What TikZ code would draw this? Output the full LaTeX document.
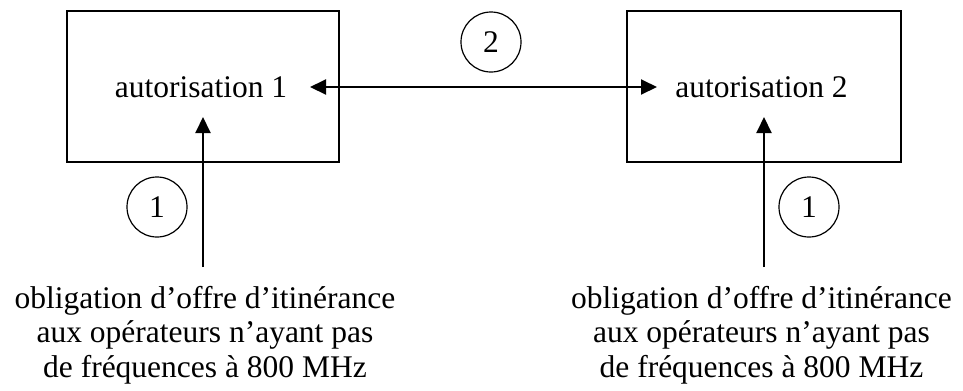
\documentclass[tikz,border=0pt]{standalone}
\usepackage{fontspec}
\setmainfont{Liberation Serif}
\usetikzlibrary{arrows.meta}
\begin{document}
\begin{tikzpicture}[x=1bp,y=-1bp,
  every node/.style={font=\fontsize{31.5bp}{34.5bp}\selectfont},
  boxstyle/.style={draw,line width=1.7bp,inner sep=0pt},
  numstyle/.style={draw,circle,line width=1.2bp,minimum size=60bp,inner sep=0pt},
  arr/.style={line width=2bp,-{Triangle[length=16bp,width=15bp]}},
  dblarr/.style={line width=2bp,{Triangle[length=16bp,width=15bp]}-{Triangle[length=16bp,width=15bp]}}]
  \useasboundingbox (0,0) rectangle (963,390);

  % the two licences
  \node[boxstyle,minimum width=272bp,minimum height=151bp] (box1) at (203,86.5) {};
  \node[boxstyle,minimum width=274bp,minimum height=151bp] (box2) at (764,86.5) {};
  \node[anchor=base,inner sep=0pt] (lab1) at (201,97) {autorisation 1};
  \node[anchor=base,inner sep=0pt] (lab2) at (761.5,97) {autorisation 2};

  % link between the licences
  \coordinate (l1) at (310,87);
  \coordinate (l2) at (657,87);
  \draw[dblarr] (l1) -- (l2);
  \node[numstyle] (c2) at (491,42) {2};

  % roaming obligations (base anchor = baseline of the last line)
  \node[anchor=base,align=center,inner sep=0pt] (obl1) at (205,377)
    {obligation d’offre d’itinérance\\aux opérateurs n’ayant pas\\de fréquences à 800 MHz};
  \node[anchor=base,align=center,inner sep=0pt] (obl2) at (761.5,377)
    {obligation d’offre d’itinérance\\aux opérateurs n’ayant pas\\de fréquences à 800 MHz};

  \coordinate (s1) at (203,267);
  \coordinate (t1) at (203,117);
  \coordinate (s2) at (764,267);
  \coordinate (t2) at (764,117);
  \draw[arr] (s1) -- (t1);
  \draw[arr] (s2) -- (t2);

  \node[numstyle] (c1a) at (157,207) {1};
  \node[numstyle] (c1b) at (809,207) {1};
\end{tikzpicture}
\end{document}
